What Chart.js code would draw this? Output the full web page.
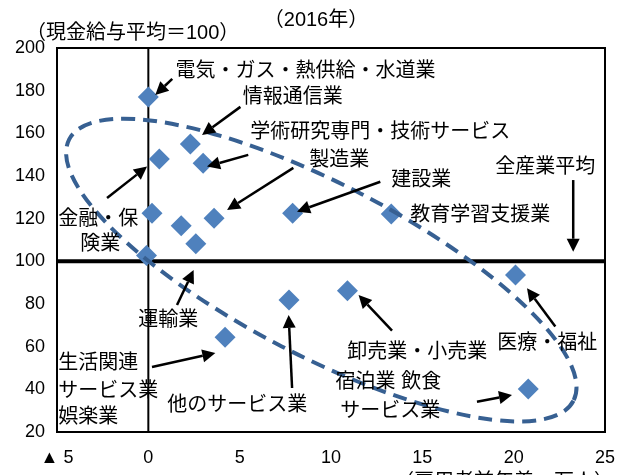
<!DOCTYPE html>
<html>
<head>
<meta charset="utf-8">
<script src="https://cdn.jsdelivr.net/npm/chart.js@4"></script>
<style>
  html, body { margin: 0; padding: 0; background: #fff; }
</style>
</head>
<body>
<canvas id="chart" width="617" height="475"></canvas>
<script>
// 産業別：雇用者前年差（万人）と現金給与（全産業平均=100）, 2016年
const industries = [
  '電気・ガス・熱供給・水道業', '情報通信業', '学術研究・専門・技術サービス業', '金融業・保険業',
  '不動産業・物品賃貸業', '複合サービス事業', '製造業', '運輸業・郵便業', '鉱業',
  '建設業', '教育・学習支援業', '医療・福祉', '卸売業・小売業', '宿泊業・飲食サービス業',
  'サービス業（他に分類されないもの）', '生活関連サービス業・娯楽業'
];
const empChange = [0.0, 2.3, 3.0, 0.6, 0.2, 1.8, 3.6, 2.6, -0.1, 7.9, 13.3, 20.1, 10.9, 20.8, 7.7, 4.2];
const wageIndex = [177, 155, 146, 148, 122.5, 116.7, 120.2, 108.3, 102.7, 122.5, 122.2, 93.6, 86.2, 40.2, 81.9, 64.4];

const xTicks = [-5, 0, 5, 10, 15, 20, 25];
const yTicks = [20, 40, 60, 80, 100, 120, 140, 160, 180, 200];
const averageLevel = 100;

// annotation labels: [text, x, y, align]
const labelTexts = [
  ['電気・ガス・熱供給・水道業', 8.6, 188.8, 'center'],
  ['情報通信業', 7.9, 176.6, 'center'],
  ['学術研究専門・技術サービス', 12.7, 160.2, 'center'],
  ['製造業', 10.45, 147.5, 'center'],
  ['建設業', 14.94, 138.1, 'center'],
  ['全産業平均', 21.73, 143.8, 'center'],
  ['教育学習支援業', 18.17, 121.7, 'center'],
  ['金融・保', -2.74, 119.4, 'center'],
  ['険業', -2.63, 107.7, 'center'],
  ['運輸業', 1.09, 72.5, 'center'],
  ['生活関連', -4.93, 51.9, 'left'],
  ['サービス業', -4.93, 38.8, 'left'],
  ['娯楽業', -4.93, 26.6, 'left'],
  ['他のサービス業', 4.87, 32.2, 'center'],
  ['卸売業・小売業', 14.72, 57.5, 'center'],
  ['医療・福祉', 21.84, 61.3, 'center'],
  ['宿泊業 飲食', 13.14, 43.0, 'center'],
  ['サービス業', 13.25, 29.4, 'center']
];

// arrows: [tailX, tailY, headX, headY]
const arrows = [
  [1.31, 185.5, 0.38, 178.0],
  [5.04, 172.4, 2.94, 159.2],
  [5.47, 149.9, 3.21, 144.4],
  [7.94, 143.8, 4.31, 124.1],
  [12.7, 137.3, 8.14, 123.3],
  [-2.26, 129.7, -0.07, 144.4],
  [23.26, 138.1, 23.26, 104.5],
  [1.57, 79.5, 2.48, 95.9],
  [0.2, 50.5, 3.67, 57.0],
  [7.87, 40.6, 7.68, 74.9],
  [13.34, 67.5, 11.51, 84.2],
  [22.28, 69.4, 20.73, 87.4],
  [17.99, 34.2, 19.91, 37.3]
];

const ellipseCenter = [9.47, 95.9];

const JP = '"Liberation Sans", "Noto Sans CJK JP", sans-serif';

function drawArrow(ctx, x1, y1, x2, y2) {
  const ang = Math.atan2(y2 - y1, x2 - x1);
  const len = 13, half = 6.5;
  const bx = x2 - Math.cos(ang) * len, by = y2 - Math.sin(ang) * len;
  ctx.beginPath();
  ctx.moveTo(x1, y1);
  ctx.lineTo(bx, by);
  ctx.stroke();
  ctx.beginPath();
  ctx.moveTo(x2, y2);
  ctx.lineTo(bx + Math.sin(ang) * half, by - Math.cos(ang) * half);
  ctx.lineTo(bx - Math.sin(ang) * half, by + Math.cos(ang) * half);
  ctx.closePath();
  ctx.fill();
}

const decorPlugin = {
  id: 'decor',
  beforeDatasetsDraw(chart) {
    const { ctx, chartArea: a, scales: { x, y } } = chart;
    ctx.save();
    ctx.strokeStyle = '#000';
    ctx.lineWidth = 2;
    ctx.strokeRect(a.left, a.top, a.right - a.left, a.bottom - a.top);
    const x0 = x.getPixelForValue(0);
    ctx.beginPath();
    ctx.moveTo(x0, a.top);
    ctx.lineTo(x0, a.bottom);
    ctx.stroke();
    const y100 = y.getPixelForValue(averageLevel);
    ctx.lineWidth = 4;
    ctx.beginPath();
    ctx.moveTo(a.left, y100);
    ctx.lineTo(a.right, y100);
    ctx.stroke();
    ctx.restore();
  },
  afterDatasetsDraw(chart) {
    const { ctx, scales: { x, y } } = chart;
    ctx.save();
    // dashed ellipse
    ctx.strokeStyle = '#376092';
    ctx.lineWidth = 4;
    ctx.setLineDash([14, 8]);
    ctx.beginPath();
    ctx.ellipse(x.getPixelForValue(ellipseCenter[0]), y.getPixelForValue(ellipseCenter[1]),
      284, 86, 27.4 * Math.PI / 180, 0, Math.PI * 2);
    ctx.stroke();
    ctx.setLineDash([]);

    // arrows
    ctx.strokeStyle = '#000';
    ctx.fillStyle = '#000';
    ctx.lineWidth = 2.5;
    arrows.forEach(([tx, ty, hx, hy]) => {
      drawArrow(ctx, x.getPixelForValue(tx), y.getPixelForValue(ty),
        x.getPixelForValue(hx), y.getPixelForValue(hy));
    });

    // labels
    ctx.font = '20px ' + JP;
    ctx.textBaseline = 'middle';
    labelTexts.forEach(([t, lx, ly, al]) => {
      ctx.textAlign = al;
      ctx.fillText(t, x.getPixelForValue(lx), y.getPixelForValue(ly));
    });

    // titles
    ctx.textAlign = 'center';
    ctx.fillText('（2016年）', 316, 20);
    ctx.textAlign = 'left';
    ctx.fillText('（現金給与平均＝100）', 26, 33);
    ctx.textAlign = 'right';
    ctx.fillText('（雇用者前年差、万人）', 614, 482);
    ctx.restore();
  }
};

const ctx = document.getElementById('chart').getContext('2d');
const chart = new Chart(ctx, {
  type: 'scatter',
  data: {
    datasets: [{
      label: '産業',
      data: empChange.map((v, i) => ({ x: v, y: wageIndex[i], name: industries[i] })),
      pointStyle: 'rectRot',
      pointRadius: 10.5,
      pointHoverRadius: 10.5,
      backgroundColor: '#4F81BD',
      borderColor: '#4F81BD',
      borderWidth: 0
    }]
  },
  options: {
    responsive: false,
    animation: false,
    layout: { padding: { top: 48, right: 12, left: 0, bottom: 0 } },
    plugins: {
      legend: { display: false },
      tooltip: { enabled: false }
    },
    scales: {
      x: {
        type: 'linear',
        min: xTicks[0],
        max: xTicks[xTicks.length - 1],
        afterBuildTicks: s => { s.ticks = xTicks.map(v => ({ value: v })); },
        afterFit: s => { s.height = 43; s.paddingLeft = 0; s.paddingRight = 0; },
        grid: { display: false, drawTicks: false },
        border: { display: false },
        ticks: {
          padding: 15,
          color: '#000',
          font: { size: 18, family: '"Liberation Sans", Arial, sans-serif' },
          callback: v => v < 0 ? '▲ ' + Math.abs(v) : v
        }
      },
      y: {
        min: yTicks[0],
        max: yTicks[yTicks.length - 1],
        afterBuildTicks: s => { s.ticks = yTicks.map(v => ({ value: v })); },
        afterFit: s => { s.width = 57; s.paddingTop = 0; s.paddingBottom = 0; },
        grid: { display: false, drawTicks: false },
        border: { display: false },
        ticks: {
          padding: 12,
          color: '#000',
          font: { size: 18, family: '"Liberation Sans", Arial, sans-serif' }
        }
      }
    }
  },
  plugins: [decorPlugin]
});
</script>
</body>
</html>
